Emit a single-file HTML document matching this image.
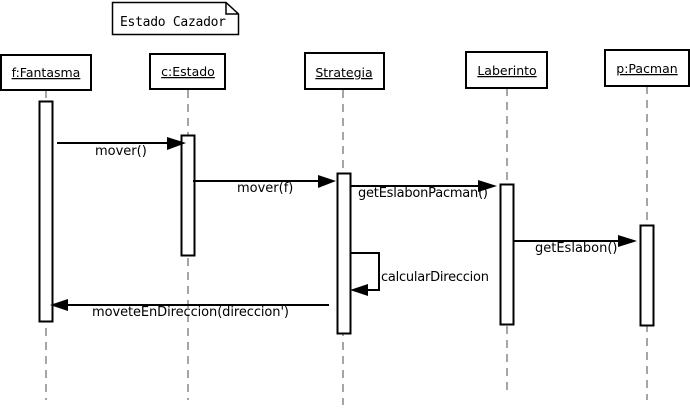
<!DOCTYPE html>
<html><head><style>body{margin:0;background:#fff}svg{display:block}</style></head><body>
<svg width="690" height="409" xmlns="http://www.w3.org/2000/svg" font-family="DejaVu Sans, sans-serif" font-size="13">
<rect width="690" height="409" fill="#fff"/>
<g stroke="#777" stroke-width="1.3" stroke-dasharray="8,6">
<line x1="46" y1="90" x2="46" y2="400"/>
<line x1="188" y1="90" x2="188" y2="400"/>
<line x1="343" y1="90" x2="343" y2="405"/>
<line x1="507" y1="88" x2="507" y2="395"/>
<line x1="647" y1="86" x2="647" y2="400"/>
</g>
<path d="M112.5 2.5 H226 L238.5 14 V34.5 H112.5 Z M226 2.5 V14 H238.5" fill="#fff" stroke="#000" stroke-width="1.5"/>
<text x="120" y="26" font-family="DejaVu Sans Mono, monospace" font-size="13" textLength="106">Estado Cazador</text>
<g fill="#fff" stroke="#000" stroke-width="2">
<rect x="1" y="55" width="90" height="35"/>
<rect x="150" y="54" width="75" height="35"/>
<rect x="305" y="53" width="79" height="36"/>
<rect x="466" y="52" width="81" height="36"/>
<rect x="605" y="50" width="84" height="36"/>
<rect x="39.5" y="101.5" width="13" height="220"/>
<rect x="181.5" y="135.5" width="13" height="120"/>
<rect x="337.5" y="173.5" width="13" height="160"/>
<rect x="500.5" y="184.5" width="13" height="140"/>
<rect x="640.5" y="225.5" width="13" height="100"/>
</g>
<g font-size="12.5" text-anchor="middle" text-decoration="underline">
<text x="46" y="77">f:Fantasma</text>
<text x="188" y="76">c:Estado</text>
<text x="344" y="77">Strategia</text>
<text x="507" y="75">Laberinto</text>
<text x="647" y="73">p:Pacman</text>
</g>
<g stroke="#000" stroke-width="2" fill="none">
<line x1="57" y1="143" x2="170" y2="143"/>
<line x1="193" y1="181" x2="320" y2="181"/>
<line x1="350" y1="186" x2="480" y2="186"/>
<line x1="514" y1="241" x2="620" y2="241"/>
<polyline points="351,253 379,253 379,290 366,290"/>
<line x1="329" y1="305" x2="67" y2="305"/>
</g>
<g fill="#000">
<polygon points="186,143 167,137 167,150"/>
<polygon points="336,181 318,175 318,188"/>
<polygon points="497,186 478,180 478,192"/>
<polygon points="637,241 618,235 618,247"/>
<polygon points="350,290 368,284 368,296"/>
<polygon points="50,305 68,299 68,311"/>
</g>
<text x="95" y="155">mover()</text>
<text x="237" y="192">mover(f)</text>
<text x="358" y="197" textLength="130">getEslabonPacman()</text>
<text x="535" y="252">getEslabon()</text>
<text x="381" y="281" textLength="108">calcularDireccion</text>
<text x="92" y="316" textLength="197">moveteEnDireccion(direccion')</text>
</svg>
</body></html>
